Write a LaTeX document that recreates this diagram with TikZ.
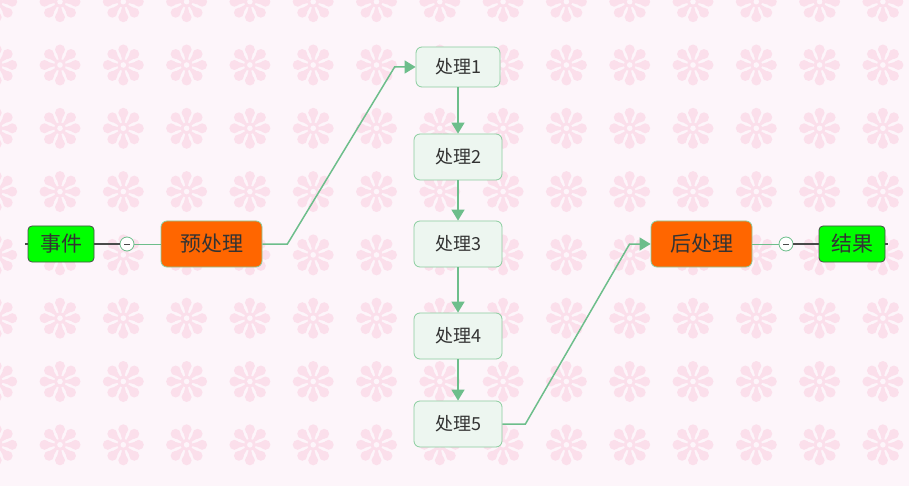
\documentclass[tikz,border=0pt]{standalone}
\usepackage{fontspec}
\setmainfont{Noto Sans CJK SC}
\usetikzlibrary{arrows.meta,calc}
\definecolor{bg}{HTML}{FDF5FA}
\definecolor{petal}{HTML}{FBDFEB}
\definecolor{conn}{HTML}{6DBE8B}
\definecolor{procfill}{HTML}{EDF6F0}
\definecolor{procdraw}{HTML}{8ACD9F}
\definecolor{orangefill}{HTML}{FF6600}
\definecolor{limefill}{HTML}{00FF00}
\definecolor{darkdraw}{HTML}{4A4A4A}
\definecolor{txt}{HTML}{333333}
\tikzset{
  flower/.pic={
    \foreach \a in {0,45,...,315}{
      \fill[petal,rotate=\a] (-1.1,5) -- (-3.6,14) -- (3.6,14) -- (1.1,5) -- cycle;
      \fill[petal,rotate=\a] (0,15.5) circle (5pt);
    }
    \fill[petal] (0,0) circle (5.8pt);
    \fill[bg] (0,0) circle (2.8pt);
  },
  greenbox/.style={draw=darkdraw, fill=limefill, rounded corners=4pt, line width=0.8pt,
    minimum width=66pt, minimum height=36pt, inner sep=0pt, text=txt,
    font=\fontsize{21pt}{24pt}\selectfont},
  orangebox/.style={draw=procdraw, fill=orangefill, rounded corners=6pt, line width=0.8pt,
    minimum width=101pt, minimum height=46pt, inner sep=0pt, text=txt,
    font=\fontsize{21pt}{24pt}\selectfont},
  procbox/.style={draw=procdraw, fill=procfill, rounded corners=6pt, line width=0.8pt,
    minimum width=88pt, minimum height=46pt, inner sep=0pt, text=txt,
    font=\fontsize{18pt}{20pt}\selectfont},
  foldcircle/.style={circle, draw=conn, fill=white, line width=0.8pt, minimum size=14pt, inner sep=0pt,
    path picture={\draw[darkdraw, line width=0.9pt]
      ([xshift=-3pt]path picture bounding box.center) -- ([xshift=3pt]path picture bounding box.center);}},
  darkline/.style={draw=darkdraw, line width=1.1pt},
  thinconn/.style={draw=conn, line width=1pt},
  conn/.style={draw=conn, line width=1.5pt, -{Triangle[length=11pt,width=13pt]}},
}
\begin{document}
\begin{tikzpicture}[x=1pt,y=-1pt]
\useasboundingbox (0,0) rectangle (909,486);
\fill[bg] (0,0) rectangle (909,486);
\begin{scope}
  \clip (0,0) rectangle (909,486);
  \foreach \i in {0,...,15}{
    \foreach \j in {0,...,8}{
      \pic at ({-3.3+63.3*\i},{1.7+63.3*\j}) {flower};
    }
  }
\end{scope}

\node[greenbox] (evt) at (61,244) {事件};
\node[foldcircle] (c1) at (127,244) {};
\node[orangebox] (pre) at (211.5,244) {预处理};
\node[procbox, minimum width=84pt, minimum height=40pt] (p1) at (458,67) {处理1};
\node[procbox] (p2) at (458,157) {处理2};
\node[procbox] (p3) at (458,244) {处理3};
\node[procbox] (p4) at (458,336) {处理4};
\node[procbox] (p5) at (458,424) {处理5};
\node[orangebox] (post) at (701.5,244) {后处理};
\node[foldcircle] (c2) at (786,244) {};
\node[greenbox] (res) at (852,244) {结果};

\coordinate (stubL) at ($(evt.west)+(-3,0)$);
\coordinate (stubR) at ($(res.east)+(3,0)$);
\draw[darkline] (evt.west) -- (stubL);
\draw[darkline] (res.east) -- (stubR);
\draw[darkline] (evt.east) -- (c1.west);
\draw[thinconn] (c1.east) -- (pre.west);
\draw[thinconn] (post.east) -- (c2.west);
\draw[darkline] (c2.east) -- (res.west);

\draw[conn] (pre.east) -- ++(25,0) -- ($(p1.west)+(-21,0)$) -- (p1.west);
\draw[conn] (p1.south) -- (p2.north);
\draw[conn] (p2.south) -- (p3.north);
\draw[conn] (p3.south) -- (p4.north);
\draw[conn] (p4.south) -- (p5.north);
\draw[conn] (p5.east) -- ++(23,0) -- ($(post.west)+(-21,0)$) -- (post.west);
\end{tikzpicture}
\end{document}
